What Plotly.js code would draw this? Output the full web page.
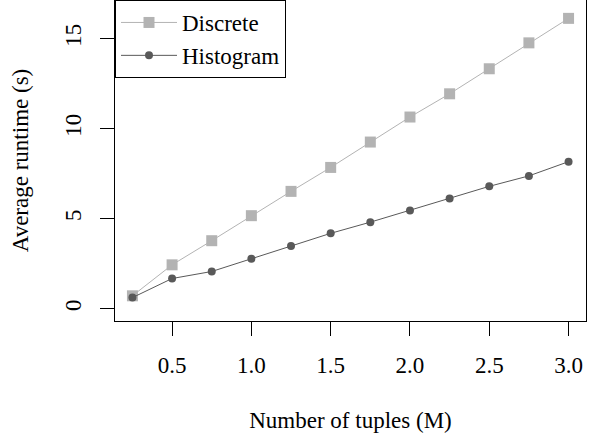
<!DOCTYPE html>
<html>
<head>
<meta charset="utf-8">
<script src="https://cdn.plot.ly/plotly-3.0.1.min.js"></script>
<style>html,body{margin:0;padding:0;background:#fff;}#chart{width:596px;height:435px;}</style>
</head>
<body>
<div id="chart"></div>
<script>
var tuples = [0.25, 0.5, 0.75, 1.0, 1.25, 1.5, 1.75, 2.0, 2.25, 2.5, 2.75, 3.0];
var discrete = [0.72, 2.44, 3.78, 5.17, 6.52, 7.85, 9.26, 10.65, 11.94, 13.33, 14.77, 16.13];
var histogram = [0.62, 1.68, 2.07, 2.78, 3.49, 4.19, 4.81, 5.46, 6.13, 6.8, 7.38, 8.17];
var xTickVals = [0.5, 1.0, 1.5, 2.0, 2.5, 3.0];
var xTickText = ["0.5", "1.0", "1.5", "2.0", "2.5", "3.0"];
var yTickVals = [0, 5, 10, 15];
var yTickText = ["0", "5", "10", "15"];

var FONT = "Liberation Serif, Times New Roman, serif";

var traces = [
  {x: tuples, y: discrete, name: "Discrete", type: "scatter", mode: "lines+markers",
   line: {color: "#b3b3b3", width: 1}, marker: {symbol: "square", size: 11, color: "#b3b3b3"}},
  {x: tuples, y: histogram, name: "Histogram", type: "scatter", mode: "lines+markers",
   line: {color: "#595959", width: 1}, marker: {symbol: "circle", size: 8, color: "#595959"}}
];

var layout = {
  width: 596, height: 435,
  margin: {l: 115, r: 10, t: 0, b: 114},
  paper_bgcolor: "#fff", plot_bgcolor: "#fff",
  font: {family: FONT, size: 23, color: "#000"},
  showlegend: true,
  legend: {x: 0, y: 1, xanchor: "left", yanchor: "top", bgcolor: "#fff",
           bordercolor: "#000", borderwidth: 1, font: {family: FONT, size: 23, color: "#000"},
           itemwidth: 56, tracegroupgap: 0},
  xaxis: {range: [0.14, 3.11], tickvals: xTickVals, ticktext: xTickText,
          ticks: "outside", ticklen: 14, tickwidth: 1, tickcolor: "#000",
          showline: true, mirror: true, linecolor: "#000", linewidth: 1,
          showgrid: false, zeroline: false, ticklabelstandoff: 9,
          title: {text: "Number of tuples (M)", font: {family: FONT, size: 23}, standoff: 35}},
  yaxis: {range: [-0.68, 17.15], tickvals: yTickVals, ticktext: yTickText, tickangle: -90,
          ticks: "outside", ticklen: 14, tickwidth: 1, tickcolor: "#000",
          showline: true, mirror: true, linecolor: "#000", linewidth: 1,
          showgrid: false, zeroline: false, ticklabelstandoff: 10,
          title: {text: "Average runtime (s)", font: {family: FONT, size: 23}, standoff: 25}}
};

Plotly.newPlot("chart", traces, layout, {displayModeBar: false, staticPlot: true});
</script>
</body>
</html>
